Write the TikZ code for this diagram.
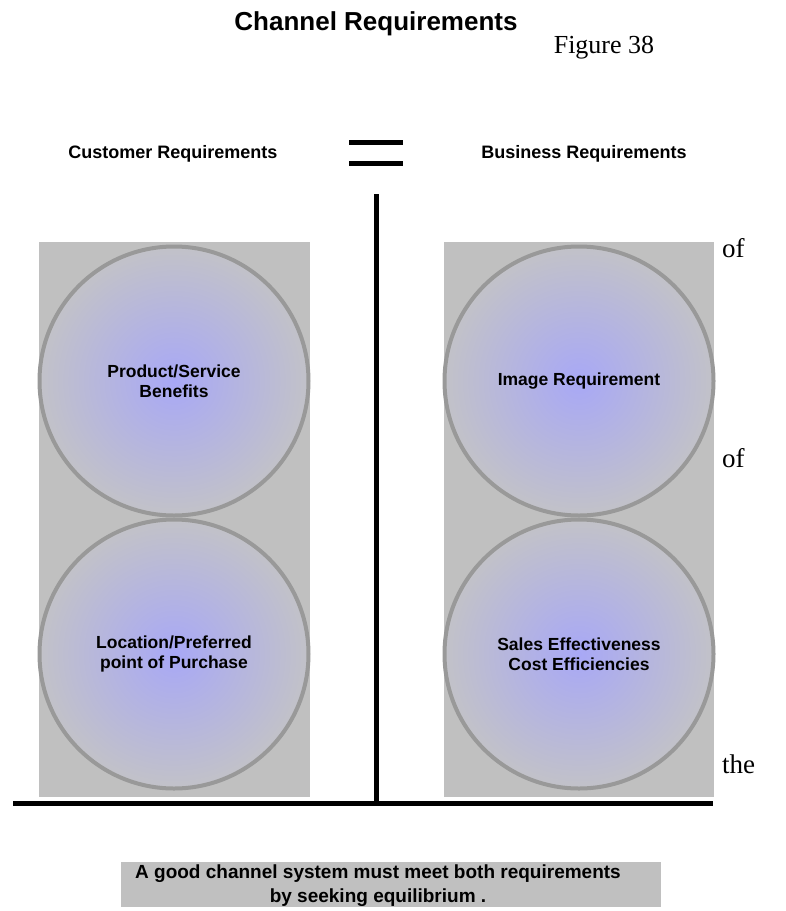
\documentclass[tikz,border=0pt]{standalone}
\usepackage{fontspec}
\setmainfont{Liberation Serif}
\setsansfont{Liberation Sans}
\usepackage{xcolor}
\usetikzlibrary{positioning}
\definecolor{panelgray}{HTML}{C0C0C0}
\definecolor{ringgray}{HTML}{999999}
\definecolor{ringcore}{HTML}{A8A8F6}
\definecolor{ringedge}{HTML}{C2C2C8}

\begin{document}
\begin{tikzpicture}[
  x=1pt, y=-1pt,
  every node/.style={inner sep=0pt, outer sep=0pt},
  heading/.style={font=\sffamily\bfseries\fontsize{18}{20}\selectfont, anchor=base},
  panel/.style={fill=panelgray, minimum width=271pt, minimum height=555pt},
  ring/.style={circle, draw=ringgray, line width=4pt, minimum size=269pt,
    inner color=ringcore, outer color=ringedge, align=center,
    font=\sffamily\bfseries\fontsize{17.5}{20}\selectfont},
  side/.style={font=\fontsize{27}{29}\selectfont, anchor=base west},
  beam/.style={line width=5pt}
]
\useasboundingbox (0,0) rectangle (786,911);

\node[heading, font=\sffamily\bfseries\fontsize{26}{28}\selectfont] (title) at (376,30) {Channel Requirements};
\node[side, anchor=base, font=\fontsize{26}{28}\selectfont] (fig) at (604,53) {Figure 38};

\node[heading] (cust) at (173,158) {Customer Requirements};
\node[heading] (bus) at (584,158) {Business Requirements};

\coordinate (eqA1) at (349,142.5); \coordinate (eqA2) at (403,142.5);
\coordinate (eqB1) at (349,163);   \coordinate (eqB2) at (403,163);
\draw[beam] (eqA1) -- (eqA2);
\draw[beam] (eqB1) -- (eqB2);

\node[panel] (leftpanel) at (174.5,519.5) {};
\node[panel, minimum width=270pt] (rightpanel) at (579,519.5) {};

\node[ring] (benefit) at (174,381) {Product/Service\\Benefits};
\node[ring] (location) at (174,654) {Location/Preferred\\point of Purchase};
\node[ring] (image) at (579,381) {Image Requirement};
\node[ring] (sales) at (579,654) {Sales Effectiveness\\Cost Efficiencies};

\coordinate (pivot) at (376.5,194);
\coordinate (groundL) at (13,803);
\coordinate (groundR) at (713,803);
\coordinate (groundM) at (376.5,803);
\draw[beam] (pivot) -- (groundM);
\draw[beam] (groundL) -- (groundR);

\node[side] (of1) at (722,257) {of};
\node[side] (of2) at (722,467) {of};
\node[side] (the) at (722,773) {the};

\node[fill=panelgray, minimum width=540pt, minimum height=45pt] (notebox) at (391,884) {};
\node[align=center, font=\sffamily\bfseries\fontsize{19}{24}\selectfont] (note) at (378,886)
  {A good channel system must meet both requirements\\by seeking equilibrium .};
\end{tikzpicture}
\end{document}
